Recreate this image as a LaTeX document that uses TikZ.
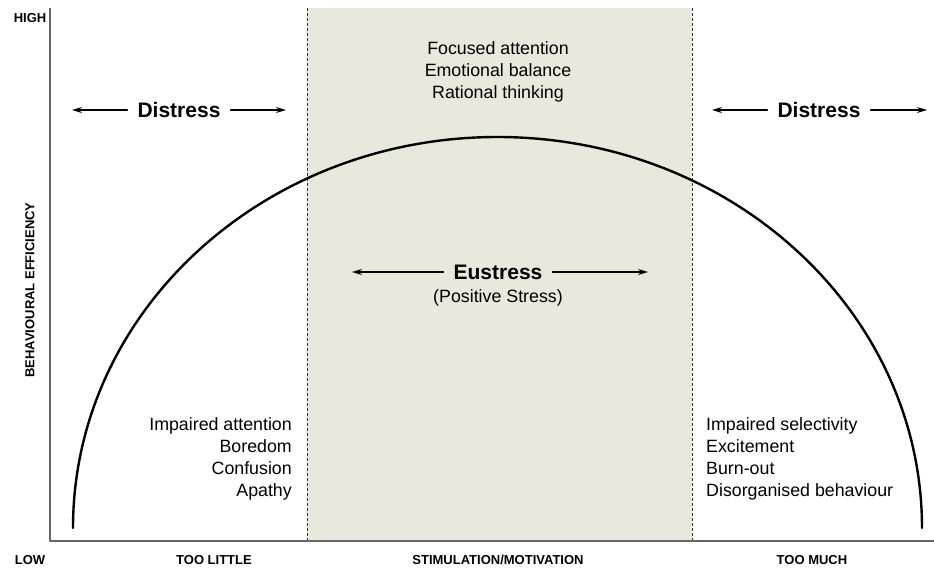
\documentclass[tikz,border=0pt]{standalone}
\usepackage{fontspec}
\setmainfont{Liberation Sans}
\usepackage{xcolor}
\usepackage{tikz}
\usetikzlibrary{positioning,arrows.meta}
\definecolor{bandfill}{HTML}{E8E8DC}
\definecolor{axisgray}{HTML}{666666}

\begin{document}
\begin{tikzpicture}[x=1pt, y=-1pt, line cap=round, line join=round,
    axislabel/.style={font=\fontsize{13}{15}\selectfont\bfseries, inner sep=0pt},
    zone/.style={font=\fontsize{21}{24}\selectfont\bfseries, inner xsep=10pt, inner ysep=0pt},
    listtext/.style={font=\fontsize{17.8}{22}\selectfont, align=#1, inner sep=0pt},
    spread/.style={-{Stealth[length=10pt,width=6pt]}, line width=1.3pt}]
        % Canvas
        \fill[white] (0,0) rectangle (934,570);
        \useasboundingbox (0,0) rectangle (934,570);

        % Eustress band
        \fill[bandfill] (307,8) rectangle (692,541);
        \foreach \bx in {307,692}
            \draw[black!80, line width=0.8pt, dash pattern=on 3pt off 2pt, line cap=butt] (\bx,8) -- (\bx,541);

        % Axes
        \draw[axisgray, line width=2pt, line cap=butt] (50,8) -- (50,541) -- (934,541);

        % Efficiency curve
        \draw[black, line width=2.4pt] (73,528) arc[start angle=180, end angle=360, x radius=424.5, y radius=391];

        % Axis labels
        \node[axislabel] (high) at (30,18) {HIGH};
        \node[axislabel] (low) at (30,560) {LOW};
        \node[axislabel] (little) at (214,560) {TOO LITTLE};
        \node[axislabel] (stim) at (498,560) {STIMULATION/MOTIVATION};
        \node[axislabel] (much) at (812,560) {TOO MUCH};
        \node[axislabel, rotate=90] (eff) at (30,290) {BEHAVIOURAL EFFICIENCY};

        % Define coordinates for arrow tips
        \coordinate (distLa) at (72,110);
        \coordinate (distLb) at (286,110);
        \coordinate (eusa) at (352,272);
        \coordinate (eusb) at (648,272);
        \coordinate (distRa) at (712,110);
        \coordinate (distRb) at (927,110);

        % Zone names
        \node[zone] (distL) at (179,110) {Distress};
        \node[zone] (eus) at (498,272) {Eustress};
        \node[zone] (distR) at (819,110) {Distress};
        \node[listtext=center] (pos) at (498,298) {(Positive Stress)};

        % Spread arrows
        \foreach \n/\a/\b in {distL/distLa/distLb, eus/eusa/eusb, distR/distRa/distRb} {
            \draw[spread] (\n.west) -- (\a);
            \draw[spread] (\n.east) -- (\b);
        }

        % Effects
        \node[listtext=center, anchor=north] (focus) at (498,41.5) {Focused attention\\Emotional balance\\Rational thinking};
        \node[listtext=right, anchor=north east] (lowlist) at (292,417) {Impaired attention\\Boredom\\Confusion\\Apathy};
        \node[listtext=left, anchor=north west] (highlist) at (706,417) {Impaired selectivity\\Excitement\\Burn-out\\Disorganised behaviour};
    \end{tikzpicture}
\end{document}
